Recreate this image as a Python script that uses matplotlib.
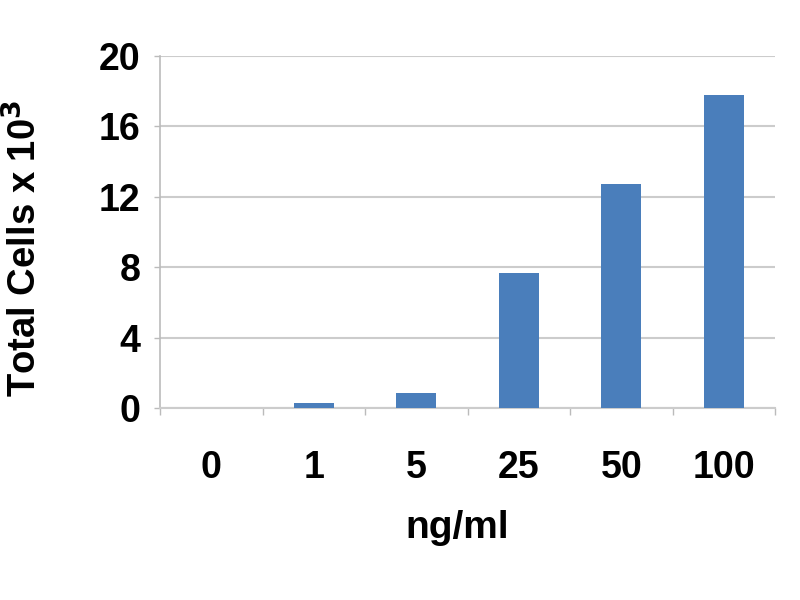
import matplotlib
matplotlib.use('Agg')
import matplotlib.pyplot as plt
import numpy as np

plt.rcParams['font.family'] = ['Liberation Sans', 'DejaVu Sans']
plt.rcParams['font.weight'] = 'bold'

# データ
conc = ['0', '1', '5', '25', '50', '100']
cells = [0.0, 0.3, 0.87, 7.65, 12.7, 17.8]
yticks = [0, 4, 8, 12, 16, 20]

fig = plt.figure(figsize=(8, 6), dpi=100)
ax = fig.add_axes([0.2, 0.32, 0.769, 0.587])

x = np.arange(len(conc))
ax.bar(x, cells, width=0.39, color='#4a7ebb', zorder=3)

ax.set_xlim(-0.5, len(conc) - 0.5)
ax.set_ylim(0, 20)
ax.set_yticks(yticks)
ax.set_yticklabels([str(t) for t in yticks], fontsize=27, fontweight='bold')
ax.yaxis.grid(True, color='#cccccc', linewidth=1.5, zorder=0)

# カテゴリの境目に小さい目盛り (Excel風)
ax.set_xticks(np.arange(len(conc) + 1) - 0.5)
ax.set_xticklabels([])
ax.tick_params(axis='x', length=5, color='#bbbbbb', width=1)
ax.tick_params(axis='y', length=4, color='#bbbbbb', width=1, pad=10)
for i, c in enumerate(conc):
    ax.text(i, -3.4, c, ha='center', va='center', fontsize=27, fontweight='bold')

for s in ['top', 'right']:
    ax.spines[s].set_visible(False)
ax.spines['left'].set_color('#bbbbbb')
ax.spines['bottom'].set_color('#cccccc')
ax.spines['left'].set_linewidth(1.2)
ax.spines['bottom'].set_linewidth(1.5)

fig.text(25 / 800, 1 - 248 / 600, 'Total Cells x 10$^{\\mathbf{3}}$', rotation=90,
         ha='center', va='center', fontsize=27.5, fontweight='bold')
fig.text(0.571, 0.12, 'ng/ml', ha='center', va='center', fontsize=28, fontweight='bold')

fig.savefig('out.png', dpi=100)
